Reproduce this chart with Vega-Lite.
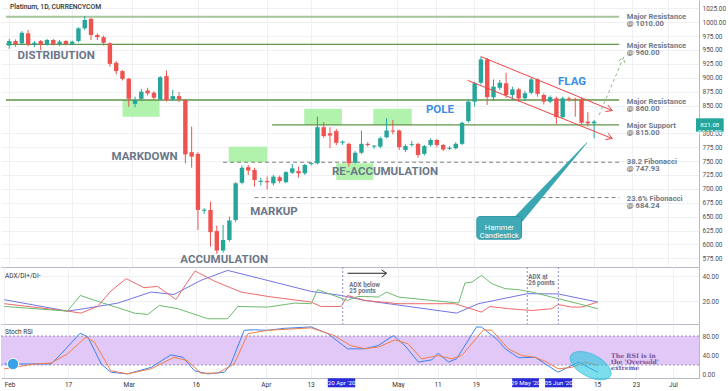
{
"$schema":"https://vega.github.io/schema/vega-lite/v6.json",
"background":"#ffffff",
"padding":0,
"spacing":0,
"bounds":"flush",
"resolve":{"scale":{"color":"independent"}},
"config":{"view":{"stroke":null},"font":"Roboto","axis":{"ticks":false,"domainColor":"#b6bac4","gridColor":"#eef0f4","labelFontSize":6.5,"labelColor":"#4c4f58","labelPadding":3,"labelOverlap":false,"labelFont":"Roboto"}},
"datasets":{
"candles":[
{"i":0,"o":958,"h":970,"l":952,"c":966},{"i":1,"o":966,"h":969,"l":956,"c":961},{"i":2,"o":962,"h":984,"l":960,"c":981},{"i":3,"o":980,"h":986,"l":957,"c":960},{"i":4,"o":960,"h":966,"l":955,"c":963},{"i":5,"o":966,"h":968,"l":950,"c":960},{"i":6,"o":960,"h":970,"l":958,"c":968},{"i":7,"o":968,"h":970,"l":958,"c":960},{"i":8,"o":960,"h":968,"l":957,"c":965},{"i":9,"o":966,"h":968,"l":958,"c":961},
{"i":10,"o":961,"h":967,"l":959,"c":965},{"i":11,"o":966,"h":991,"l":964,"c":989},{"i":12,"o":989,"h":1011,"l":986,"c":1004},{"i":13,"o":1006,"h":1008,"l":968,"c":977},{"i":14,"o":977,"h":980,"l":968,"c":973},{"i":15,"o":973,"h":976,"l":958,"c":963},{"i":16,"o":962,"h":964,"l":920,"c":925},{"i":17,"o":927,"h":930,"l":906,"c":912},{"i":18,"o":912,"h":914,"l":895,"c":898},{"i":19,"o":898,"h":900,"l":848,"c":862},
{"i":20,"o":853,"h":866,"l":847,"c":860},{"i":21,"o":862,"h":880,"l":858,"c":875},{"i":22,"o":877,"h":882,"l":868,"c":872},{"i":23,"o":873,"h":876,"l":860,"c":864},{"i":24,"o":861,"h":903,"l":859,"c":901},{"i":25,"o":903,"h":913,"l":857,"c":860},{"i":26,"o":861,"h":878,"l":858,"c":867},{"i":27,"o":867,"h":874,"l":856,"c":861},{"i":28,"o":860,"h":862,"l":746,"c":762},{"i":29,"o":766,"h":812,"l":738,"c":758},
{"i":30,"o":763,"h":766,"l":626,"c":662},{"i":31,"o":660.5,"h":665,"l":655,"c":662.5},{"i":32,"o":662,"h":677,"l":596,"c":622},{"i":33,"o":624,"h":634,"l":583,"c":589},{"i":34,"o":589,"h":635,"l":585,"c":608},{"i":35,"o":608,"h":650,"l":605,"c":643},{"i":36,"o":644,"h":712,"l":640,"c":710},{"i":37,"o":711,"h":742,"l":708,"c":738},{"i":38,"o":739,"h":743,"l":725,"c":733},{"i":39,"o":734,"h":738,"l":704,"c":716},
{"i":40,"o":712.5,"h":720,"l":706,"c":714.5},{"i":41,"o":714,"h":722,"l":699,"c":712},{"i":42,"o":710,"h":725,"l":706,"c":722},{"i":43,"o":721,"h":724,"l":710,"c":714},{"i":44,"o":712,"h":732,"l":710,"c":730},{"i":45,"o":729,"h":745,"l":727,"c":737},{"i":46,"o":732,"h":740,"l":720,"c":728},{"i":47,"o":728,"h":745,"l":725,"c":743},{"i":48,"o":745,"h":748,"l":742,"c":746.8},{"i":49,"o":746,"h":830,"l":744,"c":811},
{"i":50,"o":811,"h":820,"l":792,"c":795},{"i":51,"o":800,"h":811,"l":773,"c":796},{"i":52,"o":804,"h":808,"l":779,"c":783},{"i":53,"o":783,"h":787,"l":779,"c":785},{"i":54,"o":781,"h":783,"l":740,"c":746},{"i":55,"o":747,"h":768,"l":745,"c":765},{"i":56,"o":765,"h":805,"l":763,"c":781},{"i":57,"o":781,"h":784,"l":776,"c":779},{"i":58,"o":776,"h":779,"l":772,"c":777.7},{"i":59,"o":776,"h":794,"l":773,"c":791},
{"i":60,"o":793,"h":827,"l":791,"c":805},{"i":61,"o":805,"h":824,"l":798,"c":803},{"i":62,"o":805,"h":807,"l":770,"c":775},{"i":63,"o":770,"h":780,"l":766,"c":777},{"i":64,"o":779,"h":786,"l":776,"c":780.5},{"i":65,"o":781,"h":783,"l":756,"c":761},{"i":66,"o":763,"h":779,"l":760,"c":777},{"i":67,"o":779,"h":791,"l":776,"c":788},{"i":68,"o":788,"h":790,"l":775,"c":779},{"i":69,"o":779,"h":781,"l":768,"c":771},
{"i":70,"o":772,"h":777,"l":770,"c":774},{"i":71,"o":773,"h":784,"l":771,"c":781},{"i":72,"o":781,"h":821,"l":779,"c":819},{"i":73,"o":822,"h":860,"l":819,"c":857},{"i":74,"o":857,"h":893,"l":848,"c":890},{"i":75,"o":891,"h":938,"l":888,"c":933},{"i":76,"o":933,"h":936,"l":851,"c":865},{"i":77,"o":865,"h":897,"l":858,"c":884},{"i":78,"o":882,"h":896,"l":878,"c":891},{"i":79,"o":890,"h":909,"l":864,"c":869},
{"i":80,"o":869,"h":884,"l":860,"c":879},{"i":81,"o":879,"h":882,"l":857,"c":863},{"i":82,"o":863,"h":876,"l":858,"c":872},{"i":83,"o":873,"h":900,"l":870,"c":897},{"i":84,"o":897,"h":899,"l":866,"c":871},{"i":85,"o":869,"h":872,"l":852,"c":857},{"i":86,"o":857,"h":868,"l":854,"c":865},{"i":87,"o":863,"h":866,"l":817,"c":829},{"i":88,"o":829,"h":866,"l":826,"c":863},{"i":89,"o":863,"h":866,"l":857,"c":861},
{"i":90,"o":861.8,"h":864,"l":830,"c":860},{"i":91,"o":861,"h":864,"l":816,"c":819},{"i":92,"o":821,"h":838,"l":812,"c":818},{"i":93,"o":818,"h":824,"l":791,"c":821}
],
"adx":[
{"i":0,"v":21.4,"s":"ADX"},{"i":9.9,"v":12.3,"s":"ADX"},{"i":12.5,"v":14.2,"s":"ADX"},{"i":17.8,"v":18.7,"s":"ADX"},{"i":23.0,"v":27.5,"s":"ADX"},{"i":26.6,"v":25.6,"s":"ADX"},{"i":30.8,"v":36.8,"s":"ADX"},{"i":35.0,"v":44.8,"s":"ADX"},{"i":48.1,"v":28,"s":"ADX"},{"i":52.8,"v":24.8,"s":"ADX"},{"i":56.5,"v":20.8,"s":"ADX"},{"i":70.9,"v":10.7,"s":"ADX"},{"i":74.3,"v":18.2,"s":"ADX"},{"i":82.0,"v":26.2,"s":"ADX"},{"i":86.8,"v":26,"s":"ADX"},{"i":93,"v":19.5,"s":"ADX"},
{"i":0,"v":18.2,"s":"DI-"},{"i":9.9,"v":12.3,"s":"DI-"},{"i":12.0,"v":10.7,"s":"DI-"},{"i":14.6,"v":16,"s":"DI-"},{"i":16.7,"v":28.3,"s":"DI-"},{"i":19.1,"v":38.2,"s":"DI-"},{"i":21.9,"v":31,"s":"DI-"},{"i":24.0,"v":32,"s":"DI-"},{"i":26.9,"v":21.6,"s":"DI-"},{"i":28.7,"v":35.5,"s":"DI-"},{"i":29.9,"v":44.3,"s":"DI-"},{"i":32.9,"v":36.3,"s":"DI-"},{"i":37.1,"v":27.5,"s":"DI-"},{"i":41.3,"v":24,"s":"DI-"},{"i":48.1,"v":19.5,"s":"DI-"},{"i":49.6,"v":16,"s":"DI-"},{"i":52.8,"v":16,"s":"DI-"},{"i":53.8,"v":24.8,"s":"DI-"},{"i":56.5,"v":20.8,"s":"DI-"},{"i":61.8,"v":18.2,"s":"DI-"},{"i":70.6,"v":18.2,"s":"DI-"},{"i":74.8,"v":11.5,"s":"DI-"},{"i":76.1,"v":16,"s":"DI-"},{"i":79.0,"v":14.2,"s":"DI-"},{"i":82.7,"v":12.8,"s":"DI-"},{"i":85.8,"v":14.2,"s":"DI-"},{"i":86.8,"v":17.6,"s":"DI-"},{"i":88.9,"v":15.5,"s":"DI-"},{"i":90.5,"v":15.5,"s":"DI-"},{"i":93,"v":19.5,"s":"DI-"},
{"i":0,"v":16,"s":"DI+"},{"i":9.9,"v":12.3,"s":"DI+"},{"i":11.9,"v":24.8,"s":"DI+"},{"i":15.0,"v":19.5,"s":"DI+"},{"i":20.4,"v":10.7,"s":"DI+"},{"i":22.5,"v":9.6,"s":"DI+"},{"i":24.3,"v":16.8,"s":"DI+"},{"i":27.2,"v":14.2,"s":"DI+"},{"i":31.9,"v":6.2,"s":"DI+"},{"i":35.0,"v":6.2,"s":"DI+"},{"i":36.6,"v":16,"s":"DI+"},{"i":41.3,"v":15.5,"s":"DI+"},{"i":45.5,"v":18.7,"s":"DI+"},{"i":48.1,"v":18.2,"s":"DI+"},{"i":49.1,"v":29.4,"s":"DI+"},{"i":53.8,"v":20.8,"s":"DI+"},{"i":55.4,"v":24,"s":"DI+"},{"i":56.5,"v":24,"s":"DI+"},{"i":58.6,"v":23.5,"s":"DI+"},{"i":59.9,"v":27.5,"s":"DI+"},{"i":61.8,"v":23.5,"s":"DI+"},{"i":67.0,"v":20.8,"s":"DI+"},{"i":71.2,"v":18.7,"s":"DI+"},{"i":72.2,"v":34.7,"s":"DI+"},{"i":73.3,"v":35.5,"s":"DI+"},{"i":74.8,"v":40.8,"s":"DI+"},{"i":76.4,"v":34.2,"s":"DI+"},{"i":78.5,"v":30.2,"s":"DI+"},{"i":80.6,"v":29.4,"s":"DI+"},{"i":82.7,"v":27.5,"s":"DI+"},{"i":85.8,"v":23.5,"s":"DI+"},{"i":90.0,"v":18.2,"s":"DI+"},{"i":93,"v":14.2,"s":"DI+"}
],
"stoch":[
{"i":0,"v":22.3,"s":"K"},{"i":7.3,"v":22,"s":"K"},{"i":8.4,"v":36,"s":"K"},{"i":11.9,"v":86,"s":"K"},{"i":13.1,"v":78,"s":"K"},{"i":15.2,"v":22,"s":"K"},{"i":16.7,"v":5,"s":"K"},{"i":19.3,"v":1.5,"s":"K"},{"i":23.0,"v":15,"s":"K"},{"i":26.1,"v":41,"s":"K"},{"i":28.0,"v":36,"s":"K"},{"i":29.8,"v":8,"s":"K"},{"i":31.9,"v":1.5,"s":"K"},{"i":34.5,"v":5,"s":"K"},{"i":35.5,"v":22,"s":"K"},{"i":37.6,"v":92,"s":"K"},{"i":39.2,"v":93,"s":"K"},{"i":41.3,"v":92,"s":"K"},{"i":43.9,"v":96,"s":"K"},{"i":48.1,"v":99,"s":"K"},{"i":50.7,"v":85,"s":"K"},{"i":53.8,"v":53.5,"s":"K"},{"i":56.5,"v":53.5,"s":"K"},{"i":58.6,"v":60.4,"s":"K"},{"i":61.0,"v":81,"s":"K"},{"i":62.8,"v":60,"s":"K"},{"i":64.9,"v":26,"s":"K"},{"i":67.0,"v":30.6,"s":"K"},{"i":68.0,"v":44.6,"s":"K"},{"i":69.6,"v":26,"s":"K"},{"i":70.9,"v":33,"s":"K"},{"i":74.0,"v":98.7,"s":"K"},{"i":74.8,"v":98.7,"s":"K"},{"i":77.4,"v":71,"s":"K"},{"i":78.5,"v":53.5,"s":"K"},{"i":80.6,"v":35,"s":"K"},{"i":83.2,"v":36,"s":"K"},{"i":84.8,"v":22,"s":"K"},{"i":86.8,"v":5,"s":"K"},{"i":90.0,"v":26,"s":"K"},{"i":93,"v":5,"s":"K"},
{"i":0,"v":12,"s":"D"},{"i":4.7,"v":22,"s":"D"},{"i":7.3,"v":24,"s":"D"},{"i":9.9,"v":43,"s":"D"},{"i":12.8,"v":78,"s":"D"},{"i":14.1,"v":67.5,"s":"D"},{"i":16.7,"v":8,"s":"D"},{"i":19.3,"v":1.5,"s":"D"},{"i":23.0,"v":12,"s":"D"},{"i":26.6,"v":36,"s":"D"},{"i":28.7,"v":29,"s":"D"},{"i":30.8,"v":3,"s":"D"},{"i":33.4,"v":3,"s":"D"},{"i":36.0,"v":22,"s":"D"},{"i":38.2,"v":85,"s":"D"},{"i":41.3,"v":92,"s":"D"},{"i":48.1,"v":97,"s":"D"},{"i":51.7,"v":81,"s":"D"},{"i":54.3,"v":60,"s":"D"},{"i":56.5,"v":54,"s":"D"},{"i":58.6,"v":57,"s":"D"},{"i":61.2,"v":72,"s":"D"},{"i":63.3,"v":64,"s":"D"},{"i":65.4,"v":32.7,"s":"D"},{"i":68.0,"v":39.6,"s":"D"},{"i":70.1,"v":32.7,"s":"D"},{"i":71.7,"v":39.6,"s":"D"},{"i":75.1,"v":93,"s":"D"},{"i":76.4,"v":92,"s":"D"},{"i":79.0,"v":53.5,"s":"D"},{"i":81.1,"v":39.6,"s":"D"},{"i":83.2,"v":36,"s":"D"},{"i":85.0,"v":26,"s":"D"},{"i":86.8,"v":12,"s":"D"},{"i":88.9,"v":15,"s":"D"},{"i":91.0,"v":26,"s":"D"},{"i":93,"v":19,"s":"D"}
]
},
"vconcat":[
{
"width":698,"height":267,
"layer":[
{"data":{"values":[{"x":18.0,"x2":23.9,"y":860,"y2":830},{"x":34.9,"x2":41.0,"y":776,"y2":748},{"x":46.9,"x2":52.9,"y":844,"y2":815},{"x":57.9,"x2":64.0,"y":844,"y2":815},{"x":52.0,"x2":57.9,"y":746,"y2":716}]},
 "mark":{"type":"rect","fill":"#a3f09f","opacity":0.85},
 "encoding":{"x":{"field":"x","type":"quantitative","scale":{"domain":[-0.52,108.88],"nice":false,"zero":false},"axis":{"title":null,"orient":"bottom","values":[0,10,19.5,30,41,48,61.7,67.9,73.9,92.9,99,104.8],"labels":false,"grid":true}},"x2":{"field":"x2"},
 "y":{"field":"y","type":"quantitative","scale":{"domain":[559.3,1040],"nice":false,"zero":false},"axis":{"title":null,"orient":"right","values":[575,600,625,650,675,700,725,750,775,800,850,875,900,925,950,975,1000,1025],"format":".2f","grid":true}},"y2":{"field":"y2"}}},
{"data":{"values":[{"x":-0.52,"x2":96.98,"y":1010}]},"mark":{"type":"rule","color":"#a6c59a","strokeWidth":2},
 "encoding":{"x":{"field":"x","type":"quantitative","scale":{"domain":[-0.52,108.88],"nice":false,"zero":false},"axis":{"title":null,"orient":"bottom","values":[0,10,19.5,30,41,48,61.7,67.9,73.9,92.9,99,104.8],"labels":false,"grid":true}},"x2":{"field":"x2"},"y":{"field":"y","type":"quantitative","scale":{"domain":[559.3,1040],"nice":false,"zero":false},"axis":{"title":null,"orient":"right","values":[575,600,625,650,675,700,725,750,775,800,850,875,900,925,950,975,1000,1025],"format":".2f","grid":true}}}},
{"data":{"values":[{"x":-0.52,"x2":96.98,"y":960},{"x":-0.52,"x2":96.98,"y":860},{"x":41.8,"x2":96.98,"y":815}]},"mark":{"type":"rule","color":"#5f9548","strokeWidth":1.3},
 "encoding":{"x":{"field":"x","type":"quantitative","scale":{"domain":[-0.52,108.88],"nice":false,"zero":false},"axis":{"title":null,"orient":"bottom","values":[0,10,19.5,30,41,48,61.7,67.9,73.9,92.9,99,104.8],"labels":false,"grid":true}},"x2":{"field":"x2"},"y":{"field":"y","type":"quantitative","scale":{"domain":[559.3,1040],"nice":false,"zero":false},"axis":{"title":null,"orient":"right","values":[575,600,625,650,675,700,725,750,775,800,850,875,900,925,950,975,1000,1025],"format":".2f","grid":true}}}},
{"data":{"values":[{"x":34.0,"x2":96.98,"y":747.93},{"x":39.0,"x2":96.98,"y":684.24}]},"mark":{"type":"rule","color":"#7f7f7f","strokeWidth":1,"strokeDash":[4,3]},
 "encoding":{"x":{"field":"x","type":"quantitative","scale":{"domain":[-0.52,108.88],"nice":false,"zero":false},"axis":{"title":null,"orient":"bottom","values":[0,10,19.5,30,41,48,61.7,67.9,73.9,92.9,99,104.8],"labels":false,"grid":true}},"x2":{"field":"x2"},"y":{"field":"y","type":"quantitative","scale":{"domain":[559.3,1040],"nice":false,"zero":false},"axis":{"title":null,"orient":"right","values":[575,600,625,650,675,700,725,750,775,800,850,875,900,925,950,975,1000,1025],"format":".2f","grid":true}}}},
{"data":{"name":"candles"},"mark":{"type":"rule","strokeWidth":1},
 "encoding":{"x":{"field":"i","type":"quantitative","scale":{"domain":[-0.52,108.88],"nice":false,"zero":false},"axis":{"title":null,"orient":"bottom","values":[0,10,19.5,30,41,48,61.7,67.9,73.9,92.9,99,104.8],"labels":false,"grid":true}},"y":{"field":"l","type":"quantitative","scale":{"domain":[559.3,1040],"nice":false,"zero":false},"axis":{"title":null,"orient":"right","values":[575,600,625,650,675,700,725,750,775,800,850,875,900,925,950,975,1000,1025],"format":".2f","grid":true}},"y2":{"field":"h"},
 "color":{"condition":{"test":"datum.c >= datum.o","value":"#26a69a"},"value":"#ef5350"}}},
{"data":{"name":"candles"},"mark":{"type":"bar","width":4.4,"orient":"vertical"},
 "encoding":{"x":{"field":"i","type":"quantitative","scale":{"domain":[-0.52,108.88],"nice":false,"zero":false},"axis":{"title":null,"orient":"bottom","values":[0,10,19.5,30,41,48,61.7,67.9,73.9,92.9,99,104.8],"labels":false,"grid":true}},"y":{"field":"o","type":"quantitative","scale":{"domain":[559.3,1040],"nice":false,"zero":false},"axis":{"title":null,"orient":"right","values":[575,600,625,650,675,700,725,750,775,800,850,875,900,925,950,975,1000,1025],"format":".2f","grid":true}},"y2":{"field":"c"},
 "color":{"condition":{"test":"datum.c >= datum.o","value":"#26a69a"},"value":"#ef5350"}}},
{"data":{"values":[{"x":74.98,"y":938.2,"x2":95.88,"y2":841.0},{"x":72.88,"y":895.4,"x2":95.88,"y2":790.6},{"x":95.2,"y":850.9,"x2":95.88,"y2":841.0},{"x":94.8,"y":839.2,"x2":95.88,"y2":841.0},{"x":95.2,"y":800.5,"x2":95.88,"y2":790.6},{"x":94.8,"y":788.8,"x2":95.88,"y2":790.6}]},
 "mark":{"type":"rule","color":"#ef4444","strokeWidth":1},
 "encoding":{"x":{"field":"x","type":"quantitative","scale":{"domain":[-0.52,108.88],"nice":false,"zero":false},"axis":{"title":null,"orient":"bottom","values":[0,10,19.5,30,41,48,61.7,67.9,73.9,92.9,99,104.8],"labels":false,"grid":true}},"x2":{"field":"x2"},"y":{"field":"y","type":"quantitative","scale":{"domain":[559.3,1040],"nice":false,"zero":false},"axis":{"title":null,"orient":"right","values":[575,600,625,650,675,700,725,750,775,800,850,875,900,925,950,975,1000,1025],"format":".2f","grid":true}},"y2":{"field":"y2"}}},
{"data":{"values":[{"x":93.79,"y":833,"x2":97.71,"y2":937.4},{"x":96.96,"y":930.9,"x2":97.71,"y2":937.4},{"x":97.82,"y":926.5,"x2":97.71,"y2":937.4}]},
 "mark":{"type":"rule","color":"#8cb87c","strokeWidth":1,"strokeDash":[3,3]},
 "encoding":{"x":{"field":"x","type":"quantitative","scale":{"domain":[-0.52,108.88],"nice":false,"zero":false},"axis":{"title":null,"orient":"bottom","values":[0,10,19.5,30,41,48,61.7,67.9,73.9,92.9,99,104.8],"labels":false,"grid":true}},"x2":{"field":"x2"},"y":{"field":"y","type":"quantitative","scale":{"domain":[559.3,1040],"nice":false,"zero":false},"axis":{"title":null,"orient":"right","values":[575,600,625,650,675,700,725,750,775,800,850,875,900,925,950,975,1000,1025],"format":".2f","grid":true}},"y2":{"field":"y2"}}},
{"data":{"values":[{"x":1.32,"y":939.1,"t":"DISTRIBUTION"},{"x":16.25,"y":756.8,"t":"MARKDOWN"},{"x":27.2,"y":571.9,"t":"ACCUMULATION"},{"x":38.3,"y":657.8,"t":"MARKUP"},{"x":51.3,"y":730.9,"t":"RE-ACCUMULATION"}]},
 "mark":{"type":"text","align":"left","baseline":"middle","font":"Roboto","fontWeight":"bold","fontSize":11.5,"color":"#6b7687"},
 "encoding":{"x":{"field":"x","type":"quantitative","scale":{"domain":[-0.52,108.88],"nice":false,"zero":false},"axis":{"title":null,"orient":"bottom","values":[0,10,19.5,30,41,48,61.7,67.9,73.9,92.9,99,104.8],"labels":false,"grid":true}},"y":{"field":"y","type":"quantitative","scale":{"domain":[559.3,1040],"nice":false,"zero":false},"axis":{"title":null,"orient":"right","values":[575,600,625,650,675,700,725,750,775,800,850,875,900,925,950,975,1000,1025],"format":".2f","grid":true}},"text":{"field":"t"}}},
{"data":{"values":[{"x":66.25,"y":842,"t":"POLE"},{"x":87.26,"y":892.9,"t":"FLAG"}]},
 "mark":{"type":"text","align":"left","baseline":"middle","font":"Roboto","fontWeight":"bold","fontSize":11.5,"color":"#3b8ee6"},
 "encoding":{"x":{"field":"x","type":"quantitative","scale":{"domain":[-0.52,108.88],"nice":false,"zero":false},"axis":{"title":null,"orient":"bottom","values":[0,10,19.5,30,41,48,61.7,67.9,73.9,92.9,99,104.8],"labels":false,"grid":true}},"y":{"field":"y","type":"quantitative","scale":{"domain":[559.3,1040],"nice":false,"zero":false},"axis":{"title":null,"orient":"right","values":[575,600,625,650,675,700,725,750,775,800,850,875,900,925,950,975,1000,1025],"format":".2f","grid":true}},"text":{"field":"t"}}},
{"data":{"values":[{"x":98.2,"y":1008.9,"t":"Major Resistance\n@ 1010.00"},{"x":98.2,"y":958.0,"t":"Major Resistance\n@ 960.00"},{"x":98.2,"y":856.6,"t":"Major Resistance\n@ 860.00"},{"x":98.2,"y":812.9,"t":"Major Support\n@ 815.00"},{"x":98.2,"y":748.0,"t":"38.2 Fibonacci\n@ 747.93"},{"x":98.2,"y":682.6,"t":"23.6% Fibonacci\n@ 684.24"}]},
 "mark":{"type":"text","align":"left","baseline":"middle","font":"Roboto","fontWeight":"bold","fontSize":7.6,"color":"#6f7a8a","lineBreak":"\n","lineHeight":7.2},
 "encoding":{"x":{"field":"x","type":"quantitative","scale":{"domain":[-0.52,108.88],"nice":false,"zero":false},"axis":{"title":null,"orient":"bottom","values":[0,10,19.5,30,41,48,61.7,67.9,73.9,92.9,99,104.8],"labels":false,"grid":true}},"y":{"field":"y","type":"quantitative","scale":{"domain":[559.3,1040],"nice":false,"zero":false},"axis":{"title":null,"orient":"right","values":[575,600,625,650,675,700,725,750,775,800,850,875,900,925,950,975,1000,1025],"format":".2f","grid":true}},"text":{"field":"t"}}},
{"data":{"values":[{"x":0.1,"y":1026.9,"t":"Platinum, 1D, CURRENCYCOM"}]},
 "mark":{"type":"text","align":"left","baseline":"middle","font":"Roboto","fontWeight":500,"fontSize":6.8,"color":"#333333"},
 "encoding":{"x":{"field":"x","type":"quantitative","scale":{"domain":[-0.52,108.88],"nice":false,"zero":false},"axis":{"title":null,"orient":"bottom","values":[0,10,19.5,30,41,48,61.7,67.9,73.9,92.9,99,104.8],"labels":false,"grid":true}},"y":{"field":"y","type":"quantitative","scale":{"domain":[559.3,1040],"nice":false,"zero":false},"axis":{"title":null,"orient":"right","values":[575,600,625,650,675,700,725,750,775,800,850,875,900,925,950,975,1000,1025],"format":".2f","grid":true}},"text":{"field":"t"}}},
{"data":{"values":[{"x":81.0,"y":645.7,"k":0},{"x":91.85,"y":783.1,"k":1}]},
 "mark":{"type":"trail","color":"#3aa6b2"},
 "encoding":{"x":{"field":"x","type":"quantitative","scale":{"domain":[-0.52,108.88],"nice":false,"zero":false},"axis":{"title":null,"orient":"bottom","values":[0,10,19.5,30,41,48,61.7,67.9,73.9,92.9,99,104.8],"labels":false,"grid":true}},"y":{"field":"y","type":"quantitative","scale":{"domain":[559.3,1040],"nice":false,"zero":false},"axis":{"title":null,"orient":"right","values":[575,600,625,650,675,700,725,750,775,800,850,875,900,925,950,975,1000,1025],"format":".2f","grid":true}},"order":{"field":"k"},"size":{"field":"k","type":"quantitative","scale":{"domain":[0,1],"range":[9,0.6]},"legend":null}}},
{"data":{"values":[{"x":74.35,"x2":81.46,"y":650.1,"y2":609.4}]},
 "mark":{"type":"rect","fill":"#3fa9b5","stroke":"#2f95a0","strokeWidth":1,"cornerRadius":3},
 "encoding":{"x":{"field":"x","type":"quantitative","scale":{"domain":[-0.52,108.88],"nice":false,"zero":false},"axis":{"title":null,"orient":"bottom","values":[0,10,19.5,30,41,48,61.7,67.9,73.9,92.9,99,104.8],"labels":false,"grid":true}},"x2":{"field":"x2"},"y":{"field":"y","type":"quantitative","scale":{"domain":[559.3,1040],"nice":false,"zero":false},"axis":{"title":null,"orient":"right","values":[575,600,625,650,675,700,725,750,775,800,850,875,900,925,950,975,1000,1025],"format":".2f","grid":true}},"y2":{"field":"y2"}}},
{"data":{"values":[{"x":77.93,"y":629.5,"t":"Hammer\nCandlestick"}]},
 "mark":{"type":"text","align":"center","baseline":"middle","font":"Roboto","fontSize":7.5,"color":"#ffffff","lineBreak":"\n","lineHeight":7.5},
 "encoding":{"x":{"field":"x","type":"quantitative","scale":{"domain":[-0.52,108.88],"nice":false,"zero":false},"axis":{"title":null,"orient":"bottom","values":[0,10,19.5,30,41,48,61.7,67.9,73.9,92.9,99,104.8],"labels":false,"grid":true}},"y":{"field":"y","type":"quantitative","scale":{"domain":[559.3,1040],"nice":false,"zero":false},"axis":{"title":null,"orient":"right","values":[575,600,625,650,675,700,725,750,775,800,850,875,900,925,950,975,1000,1025],"format":".2f","grid":true}},"text":{"field":"t"}}},
{"data":{"values":[{"x":109.2,"x2":113.6,"y":827.0,"y2":802.9}]},
 "mark":{"type":"rect","fill":"#26a69a"},
 "encoding":{"x":{"field":"x","type":"quantitative","scale":{"domain":[-0.52,108.88],"nice":false,"zero":false},"axis":{"title":null,"orient":"bottom","values":[0,10,19.5,30,41,48,61.7,67.9,73.9,92.9,99,104.8],"labels":false,"grid":true}},"x2":{"field":"x2"},"y":{"field":"y","type":"quantitative","scale":{"domain":[559.3,1040],"nice":false,"zero":false},"axis":{"title":null,"orient":"right","values":[575,600,625,650,675,700,725,750,775,800,850,875,900,925,950,975,1000,1025],"format":".2f","grid":true}},"y2":{"field":"y2"}}},
{"data":{"values":[{"x":111.4,"y":814.5,"t":"821.08\n03:17:59"}]},
 "mark":{"type":"text","align":"center","baseline":"middle","font":"Roboto","fontSize":6.2,"color":"#ffffff","lineBreak":"\n","lineHeight":6.6},
 "encoding":{"x":{"field":"x","type":"quantitative","scale":{"domain":[-0.52,108.88],"nice":false,"zero":false},"axis":{"title":null,"orient":"bottom","values":[0,10,19.5,30,41,48,61.7,67.9,73.9,92.9,99,104.8],"labels":false,"grid":true}},"y":{"field":"y","type":"quantitative","scale":{"domain":[559.3,1040],"nice":false,"zero":false},"axis":{"title":null,"orient":"right","values":[575,600,625,650,675,700,725,750,775,800,850,875,900,925,950,975,1000,1025],"format":".2f","grid":true}},"text":{"field":"t"}}}
]
},
{
"width":698,"height":57,
"layer":[
{"data":{"name":"adx"},"mark":{"type":"line","strokeWidth":1},
 "encoding":{"x":{"field":"i","type":"quantitative","scale":{"domain":[-0.52,108.88],"nice":false,"zero":false},"axis":{"title":null,"orient":"bottom","values":[0,10,19.5,30,41,48,61.7,67.9,73.9,92.9,99,104.8],"labels":false,"grid":true}},
 "y":{"field":"v","type":"quantitative","scale":{"domain":[2,47.5],"nice":false,"zero":false},"axis":{"title":null,"orient":"right","values":[20,40],"format":".2f","grid":true}},
 "color":{"field":"s","type":"nominal","scale":{"domain":["ADX","DI+","DI-"],"range":["#7474e6","#6dbb6d","#f06a6a"]},"legend":null}}},
{"data":{"values":[{"x":53.04},{"x":81.97},{"x":86.83}]},"mark":{"type":"rule","color":"#9488d0","strokeWidth":1,"strokeDash":[2,2]},
 "encoding":{"x":{"field":"x","type":"quantitative","scale":{"domain":[-0.52,108.88],"nice":false,"zero":false},"axis":{"title":null,"orient":"bottom","values":[0,10,19.5,30,41,48,61.7,67.9,73.9,92.9,99,104.8],"labels":false,"grid":true}}}},
{"data":{"values":[{"x":53.8,"y":42.5,"x2":59.9,"y2":42.5},{"x":59.15,"y":45.1,"x2":59.9,"y2":42.5},{"x":59.15,"y":39.3,"x2":59.9,"y2":42.5}]},
 "mark":{"type":"rule","color":"#222222","strokeWidth":1},
 "encoding":{"x":{"field":"x","type":"quantitative","scale":{"domain":[-0.52,108.88],"nice":false,"zero":false},"axis":{"title":null,"orient":"bottom","values":[0,10,19.5,30,41,48,61.7,67.9,73.9,92.9,99,104.8],"labels":false,"grid":true}},"x2":{"field":"x2"},"y":{"field":"y","type":"quantitative","scale":{"domain":[2,47.5],"nice":false,"zero":false},"axis":{"title":null,"orient":"right","values":[20,40],"format":".2f","grid":true}},"y2":{"field":"y2"}}},
{"data":{"values":[{"x":54.08,"y":33.0,"t":"ADX below\n25 points"},{"x":82.13,"y":39.6,"t":"ADX at\n26 points"}]},
 "mark":{"type":"text","align":"left","baseline":"middle","font":"Roboto","fontWeight":"bold","fontSize":6.3,"color":"#6b7585","lineBreak":"\n","lineHeight":6.3},
 "encoding":{"x":{"field":"x","type":"quantitative","scale":{"domain":[-0.52,108.88],"nice":false,"zero":false},"axis":{"title":null,"orient":"bottom","values":[0,10,19.5,30,41,48,61.7,67.9,73.9,92.9,99,104.8],"labels":false,"grid":true}},"y":{"field":"y","type":"quantitative","scale":{"domain":[2,47.5],"nice":false,"zero":false},"axis":{"title":null,"orient":"right","values":[20,40],"format":".2f","grid":true}},"text":{"field":"t"}}},
{"data":{"values":[{"x":0.11,"y":40.6,"t":"ADX/DI+/DI-"}]},
 "mark":{"type":"text","align":"left","baseline":"middle","font":"Roboto","fontSize":6.5,"color":"#333333"},
 "encoding":{"x":{"field":"x","type":"quantitative","scale":{"domain":[-0.52,108.88],"nice":false,"zero":false},"axis":{"title":null,"orient":"bottom","values":[0,10,19.5,30,41,48,61.7,67.9,73.9,92.9,99,104.8],"labels":false,"grid":true}},"y":{"field":"y","type":"quantitative","scale":{"domain":[2,47.5],"nice":false,"zero":false},"axis":{"title":null,"orient":"right","values":[20,40],"format":".2f","grid":true}},"text":{"field":"t"}}}
]
},
{
"width":698,"height":54,
"layer":[
{"data":{"values":[{"lo":20,"hi":80}]},"mark":{"type":"rect","fill":"#e2c8f6"},
 "encoding":{"y":{"field":"hi","type":"quantitative","scale":{"domain":[-7,105],"nice":false,"zero":false},"axis":{"title":null,"orient":"right","values":[0,40,80],"format":".2f","grid":false}},"y2":{"field":"lo"}}},
{"data":{"values":[{"y":80},{"y":20}]},"mark":{"type":"rule","color":"#9d91b5","strokeWidth":1,"strokeDash":[2,2]},
 "encoding":{"y":{"field":"y","type":"quantitative","scale":{"domain":[-7,105],"nice":false,"zero":false},"axis":{"title":null,"orient":"right","values":[0,40,80],"format":".2f","grid":false}}}},
{"data":{"name":"stoch"},"mark":{"type":"line","strokeWidth":1},
 "encoding":{"x":{"field":"i","type":"quantitative","scale":{"domain":[-0.52,108.88],"nice":false,"zero":false},"axis":{"title":null,"orient":"bottom","values":[0,10,19.5,30,41,48,61.7,67.9,73.9,92.9,99,104.8],"labelExpr":"datum.value==0?'Feb':datum.value==10?'17':datum.value==19.5?'Mar':datum.value==30?'16':datum.value==41?'Apr':datum.value==48?'13':datum.value==61.7?'May':datum.value==67.9?'11':datum.value==73.9?'19':datum.value==92.9?'15':datum.value==99?'23':'Jul'","labelColor":"#333333","labelFlush":5,"grid":true}},
 "y":{"field":"v","type":"quantitative","scale":{"domain":[-7,105],"nice":false,"zero":false},"axis":{"title":null,"orient":"right","values":[0,40,80],"format":".2f","grid":false}},
 "color":{"field":"s","type":"nominal","scale":{"domain":["K","D"],"range":["#3c82f0","#f27d45"]},"legend":null}}},
{"data":{"values":[{"x":91.9,"y":18.5}]},
 "mark":{"type":"point","shape":"M -1 0 A 1 0.5 0 1 0 1 0 A 1 0.5 0 1 0 -1 0 Z","filled":true,"fill":"#25c6e0","fillOpacity":0.6,"stroke":"#1bb2d0","strokeWidth":0.5,"size":2000,"angle":27},
 "encoding":{"x":{"field":"x","type":"quantitative","scale":{"domain":[-0.52,108.88],"nice":false,"zero":false},"axis":{"title":null,"orient":"bottom","values":[0,10,19.5,30,41,48,61.7,67.9,73.9,92.9,99,104.8],"labelExpr":"datum.value==0?'Feb':datum.value==10?'17':datum.value==19.5?'Mar':datum.value==30?'16':datum.value==41?'Apr':datum.value==48?'13':datum.value==61.7?'May':datum.value==67.9?'11':datum.value==73.9?'19':datum.value==92.9?'15':datum.value==99?'23':'Jul'","labelColor":"#333333","labelFlush":5,"grid":true}},"y":{"field":"y","type":"quantitative","scale":{"domain":[-7,105],"nice":false,"zero":false},"axis":{"title":null,"orient":"right","values":[0,40,80],"format":".2f","grid":false}}}},
{"data":{"values":[{"x":95.1,"y":38.6,"t":"The RSI is in\nthe 'Oversold'\nextreme"}]},
 "mark":{"type":"text","align":"left","baseline":"middle","font":"DejaVu Serif","fontWeight":"bold","fontSize":6.2,"color":"#74559a","lineBreak":"\n","lineHeight":5.8},
 "encoding":{"x":{"field":"x","type":"quantitative","scale":{"domain":[-0.52,108.88],"nice":false,"zero":false},"axis":{"title":null,"orient":"bottom","values":[0,10,19.5,30,41,48,61.7,67.9,73.9,92.9,99,104.8],"labelExpr":"datum.value==0?'Feb':datum.value==10?'17':datum.value==19.5?'Mar':datum.value==30?'16':datum.value==41?'Apr':datum.value==48?'13':datum.value==61.7?'May':datum.value==67.9?'11':datum.value==73.9?'19':datum.value==92.9?'15':datum.value==99?'23':'Jul'","labelColor":"#333333","labelFlush":5,"grid":true}},"y":{"field":"y","type":"quantitative","scale":{"domain":[-7,105],"nice":false,"zero":false},"axis":{"title":null,"orient":"right","values":[0,40,80],"format":".2f","grid":false}},"text":{"field":"t"}}},
{"data":{"values":[{"x":0.11,"y":87.8,"t":"Stoch RSI"}]},
 "mark":{"type":"text","align":"left","baseline":"middle","font":"Roboto","fontSize":6.5,"color":"#333333"},
 "encoding":{"x":{"field":"x","type":"quantitative","scale":{"domain":[-0.52,108.88],"nice":false,"zero":false},"axis":{"title":null,"orient":"bottom","values":[0,10,19.5,30,41,48,61.7,67.9,73.9,92.9,99,104.8],"labelExpr":"datum.value==0?'Feb':datum.value==10?'17':datum.value==19.5?'Mar':datum.value==30?'16':datum.value==41?'Apr':datum.value==48?'13':datum.value==61.7?'May':datum.value==67.9?'11':datum.value==73.9?'19':datum.value==92.9?'15':datum.value==99?'23':'Jul'","labelColor":"#333333","labelFlush":5,"grid":true}},"y":{"field":"y","type":"quantitative","scale":{"domain":[-7,105],"nice":false,"zero":false},"axis":{"title":null,"orient":"right","values":[0,40,80],"format":".2f","grid":false}},"text":{"field":"t"}}},
{"data":{"values":[{"x":1.36,"y":22}]},
 "mark":{"type":"point","shape":"circle","filled":true,"fill":"#3aa0e8","stroke":"#ffffff","strokeWidth":1,"size":130,"opacity":1},
 "encoding":{"x":{"field":"x","type":"quantitative","scale":{"domain":[-0.52,108.88],"nice":false,"zero":false},"axis":{"title":null,"orient":"bottom","values":[0,10,19.5,30,41,48,61.7,67.9,73.9,92.9,99,104.8],"labelExpr":"datum.value==0?'Feb':datum.value==10?'17':datum.value==19.5?'Mar':datum.value==30?'16':datum.value==41?'Apr':datum.value==48?'13':datum.value==61.7?'May':datum.value==67.9?'11':datum.value==73.9?'19':datum.value==92.9?'15':datum.value==99?'23':'Jul'","labelColor":"#333333","labelFlush":5,"grid":true}},"y":{"field":"y","type":"quantitative","scale":{"domain":[-7,105],"nice":false,"zero":false},"axis":{"title":null,"orient":"right","values":[0,40,80],"format":".2f","grid":false}}}},
{"data":{"values":[{"x":50.7,"x2":55.0,"xc":52.85,"yt":-7.6,"yb":-26.3,"ym":-17.2,"t":"20 Apr '20"},{"x":79.6,"x2":83.8,"xc":81.7,"yt":-7.6,"yb":-26.3,"ym":-17.2,"t":"29 May '20"},{"x":84.75,"x2":89.0,"xc":86.88,"yt":-7.6,"yb":-26.3,"ym":-17.2,"t":"05 Jun '20"}]},
 "layer":[
  {"mark":{"type":"rect","fill":"#2b2bd9"},
   "encoding":{"x":{"field":"x","type":"quantitative","scale":{"domain":[-0.52,108.88],"nice":false,"zero":false},"axis":{"title":null,"orient":"bottom","values":[0,10,19.5,30,41,48,61.7,67.9,73.9,92.9,99,104.8],"labelExpr":"datum.value==0?'Feb':datum.value==10?'17':datum.value==19.5?'Mar':datum.value==30?'16':datum.value==41?'Apr':datum.value==48?'13':datum.value==61.7?'May':datum.value==67.9?'11':datum.value==73.9?'19':datum.value==92.9?'15':datum.value==99?'23':'Jul'","labelColor":"#333333","labelFlush":5,"grid":true}},"x2":{"field":"x2"},"y":{"field":"yt","type":"quantitative","scale":{"domain":[-7,105],"nice":false,"zero":false},"axis":{"title":null,"orient":"right","values":[0,40,80],"format":".2f","grid":false}},"y2":{"field":"yb"}}},
  {"mark":{"type":"text","align":"center","baseline":"middle","font":"Roboto","fontSize":6.2,"color":"#ffffff"},
   "encoding":{"x":{"field":"xc","type":"quantitative","scale":{"domain":[-0.52,108.88],"nice":false,"zero":false},"axis":{"title":null,"orient":"bottom","values":[0,10,19.5,30,41,48,61.7,67.9,73.9,92.9,99,104.8],"labelExpr":"datum.value==0?'Feb':datum.value==10?'17':datum.value==19.5?'Mar':datum.value==30?'16':datum.value==41?'Apr':datum.value==48?'13':datum.value==61.7?'May':datum.value==67.9?'11':datum.value==73.9?'19':datum.value==92.9?'15':datum.value==99?'23':'Jul'","labelColor":"#333333","labelFlush":5,"grid":true}},"y":{"field":"ym","type":"quantitative","scale":{"domain":[-7,105],"nice":false,"zero":false},"axis":{"title":null,"orient":"right","values":[0,40,80],"format":".2f","grid":false}},"text":{"field":"t"}}}
 ]}
]
}
]
}
